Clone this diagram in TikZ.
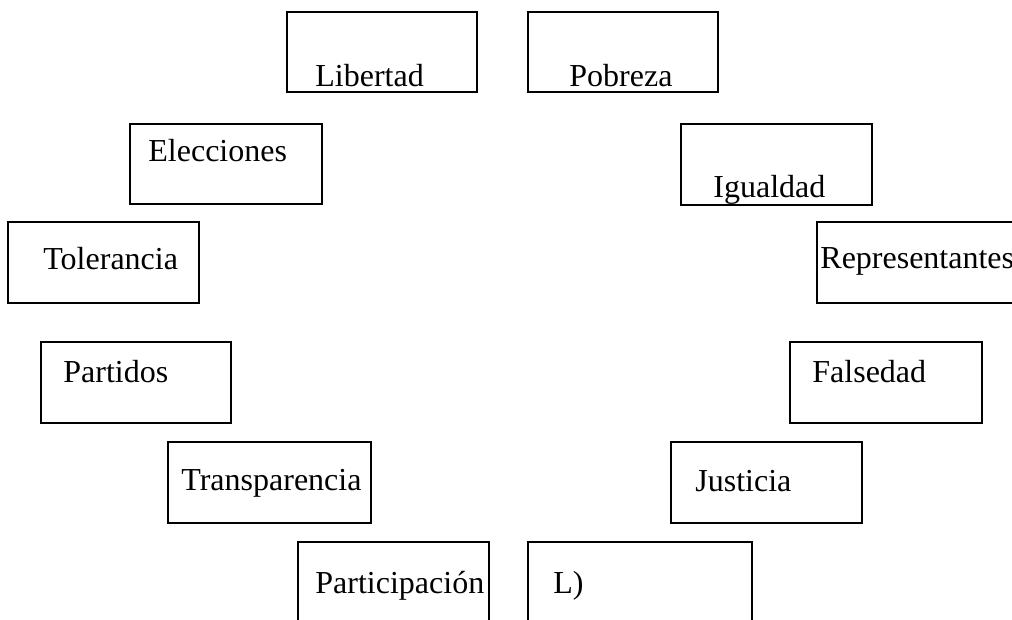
\documentclass[tikz,border=0pt]{standalone}
\usepackage{fontspec}
\setmainfont{Liberation Serif}
\usepackage{tikz}
\usetikzlibrary{positioning}

\begin{document}
\begin{tikzpicture}[
  x=0.5pt, y=-0.5pt,
  wbox/.style 2 args={rectangle, draw, line width=1pt, minimum width=#1, minimum height=#2, anchor=north west, inner sep=0pt, outer sep=0pt},
  word/.style={anchor=base west, inner sep=0pt, font=\fontsize{16}{19}\selectfont}
]
  \useasboundingbox (0,0) rectangle (1012,620);
  \clip (0,0) rectangle (1012,620);
  % top row
  \node[wbox={95pt}{40pt}] (lib) at (287,12) {};
  \node[word] (lib-t) at (315,87) {Libertad};
  \node[wbox={95pt}{40pt}] (pob) at (528,12) {};
  \node[word] (pob-t) at (569,87) {Pobreza};
  % left side
  \node[wbox={96pt}{40pt}] (ele) at (130,124) {};
  \node[word] (ele-t) at (148,162) {Elecciones};
  \node[wbox={95.5pt}{40.5pt}] (tol) at (8,222) {};
  \node[word] (tol-t) at (43,270) {Tolerancia};
  \node[wbox={95pt}{40.5pt}] (par) at (41,342) {};
  \node[word] (par-t) at (63,382) {Partidos};
  \node[wbox={101.5pt}{40.5pt}] (tra) at (168,442) {};
  \node[word] (tra-t) at (181,490) {Transparencia};
  % right side
  \node[wbox={95.5pt}{40.5pt}] (igu) at (681,124) {};
  \node[word] (igu-t) at (713,198) {Igualdad};
  \node[wbox={101.5pt}{40.5pt}] (rep) at (817,222) {};
  \node[word] (rep-t) at (820,269) {Representantes};
  \node[wbox={96pt}{40.5pt}] (fal) at (790,342) {};
  \node[word] (fal-t) at (812,382) {Falsedad};
  \node[wbox={95.5pt}{40.5pt}] (jus) at (671,442) {};
  \node[word] (jus-t) at (695,491) {Justicia};
  % bottom row
  \node[wbox={95.5pt}{42pt}] (pac) at (298,542) {};
  \node[word] (pac-t) at (315,593) {Participación};
  \node[wbox={112pt}{42pt}] (ll) at (528,542) {};
  \node[word] (ll-t) at (553,593) {L)};
\end{tikzpicture}
\end{document}
